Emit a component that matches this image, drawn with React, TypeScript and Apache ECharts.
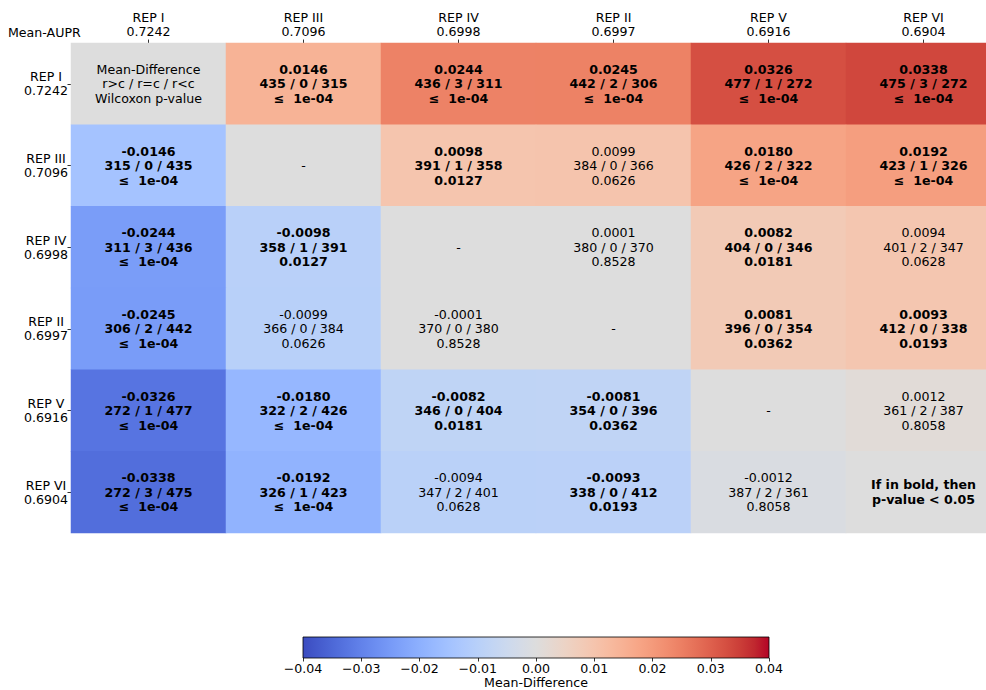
import React, { useEffect, useRef } from "react";
import * as echarts from "echarts";

const repNames = ["REP I", "REP III", "REP IV", "REP II", "REP V", "REP VI"];
const meanAupr = ["0.7242", "0.7096", "0.6998", "0.6997", "0.6916", "0.6904"];

// Mean-difference (row minus column); diagonal = null
const meanDiff: (number | null)[][] = [
  [null, 0.0146, 0.0244, 0.0245, 0.0326, 0.0338],
  [-0.0146, null, 0.0098, 0.0099, 0.018, 0.0192],
  [-0.0244, -0.0098, null, 0.0001, 0.0082, 0.0094],
  [-0.0245, -0.0099, -0.0001, null, 0.0081, 0.0093],
  [-0.0326, -0.018, -0.0082, -0.0081, null, 0.0012],
  [-0.0338, -0.0192, -0.0094, -0.0093, -0.0012, null],
];

// r>c / r=c / r<c counts
const counts: (number[] | null)[][] = [
  [null, [435, 0, 315], [436, 3, 311], [442, 2, 306], [477, 1, 272], [475, 3, 272]],
  [[315, 0, 435], null, [391, 1, 358], [384, 0, 366], [426, 2, 322], [423, 1, 326]],
  [[311, 3, 436], [358, 1, 391], null, [380, 0, 370], [404, 0, 346], [401, 2, 347]],
  [[306, 2, 442], [366, 0, 384], [370, 0, 380], null, [396, 0, 354], [412, 0, 338]],
  [[272, 1, 477], [322, 2, 426], [346, 0, 404], [354, 0, 396], null, [361, 2, 387]],
  [[272, 3, 475], [326, 1, 423], [347, 2, 401], [338, 0, 412], [387, 2, 361], null],
];

const LE = "≤  1e-04";
const pValues: (string | null)[][] = [
  [null, LE, LE, LE, LE, LE],
  [LE, null, "0.0127", "0.0626", LE, LE],
  [LE, "0.0127", null, "0.8528", "0.0181", "0.0628"],
  [LE, "0.0626", "0.8528", null, "0.0362", "0.0193"],
  [LE, LE, "0.0181", "0.0362", null, "0.8058"],
  [LE, LE, "0.0628", "0.0193", "0.8058", null],
];

const coolwarm = [
  "rgb(59,76,192)", "rgb(68,90,204)", "rgb(77,104,215)", "rgb(87,117,225)",
  "rgb(98,130,234)", "rgb(108,142,241)", "rgb(119,154,247)", "rgb(130,165,251)",
  "rgb(141,176,254)", "rgb(152,185,255)", "rgb(163,194,255)", "rgb(174,201,253)",
  "rgb(184,208,249)", "rgb(194,213,244)", "rgb(204,217,238)", "rgb(213,219,230)",
  "rgb(221,221,221)", "rgb(229,216,209)", "rgb(236,211,197)", "rgb(241,204,185)",
  "rgb(245,196,173)", "rgb(247,187,160)", "rgb(247,177,148)", "rgb(247,166,135)",
  "rgb(244,154,123)", "rgb(241,141,111)", "rgb(236,127,99)", "rgb(229,112,88)",
  "rgb(222,96,77)", "rgb(213,80,66)", "rgb(203,62,56)", "rgb(192,40,47)",
  "rgb(180,4,38)",
];

const FONT = "DejaVu Sans";
const FS = 12.6;

function cellText(r: number, c: number): { lines: string[]; bold: boolean } {
  if (r === c) {
    if (r === 0) return { lines: ["Mean-Difference", "r>c / r=c / r<c", "Wilcoxon p-value"], bold: false };
    if (r === repNames.length - 1) return { lines: ["If in bold, then", "p-value < 0.05"], bold: true };
    return { lines: ["-"], bold: false };
  }
  const v = meanDiff[r][c] as number;
  const cnt = counts[r][c] as number[];
  const p = pValues[r][c] as string;
  const bold = p.startsWith("≤") || parseFloat(p) < 0.05;
  return { lines: [v.toFixed(4), `${cnt[0]} / ${cnt[1]} / ${cnt[2]}`, p], bold };
}

export default function App() {
  const ref = useRef<HTMLDivElement>(null);
  useEffect(() => {
    if (!ref.current) return;
    const chart = echarts.init(ref.current, undefined, { renderer: "svg" });
    const data: any[] = [];
    for (let r = 0; r < repNames.length; r++) {
      for (let c = 0; c < repNames.length; c++) {
        const v = meanDiff[r][c];
        data.push([c, r, v === null ? 0 : v]);
      }
    }
    const xLabels = repNames.map((n, i) => `${n}\n${meanAupr[i]}`);
    const gradient = new echarts.graphic.LinearGradient(
      0, 0, 1, 0,
      coolwarm.map((col, i) => ({ offset: i / (coolwarm.length - 1), color: col }))
    );
    const fmtTick = (v: number) => (v < -1e-9 ? "\u2212" + Math.abs(v).toFixed(2) : Math.abs(v).toFixed(2));
    chart.setOption({
      animation: false,
      backgroundColor: "#ffffff",
      textStyle: { fontFamily: FONT, fontSize: FS, color: "#000" },
      grid: [
        { left: 71, top: 43, width: 930, height: 490, containLabel: false },
        {
          left: 303, top: 637, width: 466, height: 23, show: true,
          backgroundColor: gradient, borderColor: "#000", borderWidth: 0.8,
        },
      ],
      xAxis: [
        {
          type: "category", gridIndex: 0, position: "top", data: xLabels,
          axisLine: { show: false },
          axisTick: { show: true, alignWithLabel: true, length: 3.5, lineStyle: { color: "#000", width: 0.8 } },
          axisLabel: { margin: 4, fontFamily: FONT, fontSize: FS, color: "#000", lineHeight: 14.5, align: "center", interval: 0 },
          splitLine: { show: false },
        },
        {
          type: "value", gridIndex: 1, position: "bottom", min: -0.04, max: 0.04, interval: 0.01,
          axisLine: { show: false },
          axisTick: { show: true, length: 3.5, lineStyle: { color: "#000", width: 0.8 } },
          axisLabel: { margin: 4, fontFamily: FONT, fontSize: FS, color: "#000", formatter: fmtTick, showMinLabel: true, showMaxLabel: true },
          splitLine: { show: false },
          name: "Mean-Difference", nameLocation: "middle", nameGap: 18,
          nameTextStyle: { fontFamily: FONT, fontSize: FS, color: "#000" },
        },
      ],
      yAxis: [
        {
          type: "category", gridIndex: 0, inverse: true, data: repNames.map((n, i) => `${n}\n${meanAupr[i]}`),
          axisLine: { show: false },
          axisTick: { show: true, alignWithLabel: true, length: 3.5, lineStyle: { color: "#000", width: 0.8 } },
          axisLabel: { margin: 25, align: "center", fontFamily: FONT, fontSize: FS, color: "#000", lineHeight: 14, interval: 0 },
          splitLine: { show: false },
        },
        { type: "value", gridIndex: 1, show: false, min: 0, max: 1 },
      ],
      visualMap: {
        type: "continuous", show: false, min: -0.04, max: 0.04, seriesIndex: 0,
        inRange: { color: coolwarm },
      },
      graphic: [
        {
          type: "text", left: 8, top: 26,
          style: { text: "Mean-AUPR", fontFamily: FONT, fontSize: FS, fill: "#000" },
        },
      ],
      series: [
        {
          type: "heatmap", xAxisIndex: 0, yAxisIndex: 0, data,
          emphasis: { disabled: true },
          itemStyle: { borderWidth: 0 },
          label: {
            show: true,
            color: "#000",
            fontFamily: FONT,
            fontSize: FS,
            lineHeight: 14.5,
            formatter: (p: any) => {
              const [c, r] = p.value;
              const t = cellText(r, c);
              const tag = t.bold ? "b" : "n";
              return t.lines.map((l) => `{${tag}|${l}}`).join("\n");
            },
            rich: {
              b: { fontFamily: FONT, fontSize: FS, fontWeight: "bold", color: "#000", lineHeight: 14.5 },
              n: { fontFamily: FONT, fontSize: FS, fontWeight: "normal", color: "#000", lineHeight: 14.5 },
            },
          },
        },
      ],
    });
    return () => chart.dispose();
  }, []);
  return (
    <div style={{ position: "absolute", left: 0, top: 0, width: 986, height: 690, overflow: "hidden" }}>
      <div ref={ref} style={{ width: 1010, height: 690 }} />
    </div>
  );
}
